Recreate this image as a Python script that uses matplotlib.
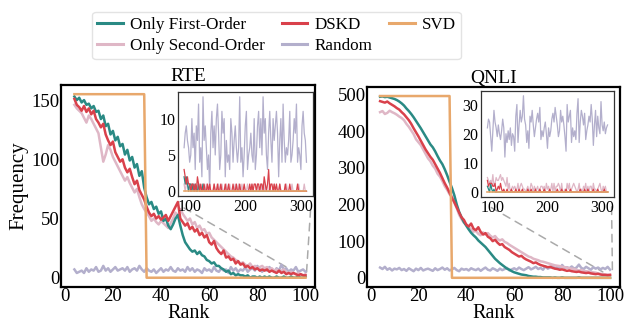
# Rank frequency of selected components: RTE and QNLI, with zoomed insets for the tail
import matplotlib
matplotlib.use('Agg')
import matplotlib.pyplot as plt
from matplotlib.patches import ConnectionPatch

plt.rcParams['font.family'] = ['Liberation Serif', 'DejaVu Serif']

ranks = list(range(4, 101))
tail_ranks = list(range(90, 311, 2))

# ---- RTE main curves (rank 4..100)
rte_first = [153,150,152,148,150,146,147,143,145,140,
             141,134,137,128,130,121,124,116,119,111,
             113,104,108,99,102,93,96,86,90,76,
             68,62,64,58,60,54,56,48,50,44,
             41,45,50,53,44,36,30,27,24,22,
             23,20,22,19,18,15,14,12,13,10,
             10,8,7,5,6,3,4,2,3,2,
             2,1,2,0,1,1,0,1,0,1,
             0,1,0,0,1,0,0,1,0,0,
             1,0,0,1,0,0,1]
rte_dskd = [151,146,144,141,145,140,143,138,141,134,
            131,127,130,121,116,112,115,106,102,98,
            100,93,89,92,85,79,82,74,70,66,
            60,55,52,54,50,52,49,51,53,48,
            52,56,60,64,50,47,44,46,41,43,
            39,41,36,38,34,36,30,28,31,25,
            22,20,23,17,18,15,16,12,14,11,
            12,9,10,8,9,7,8,6,7,6,
            7,5,6,5,4,6,4,5,3,4,
            3,4,3,2,3,2,2]
rte_second = [146,143,141,139,135,131,137,134,130,126,
              122,110,98,104,112,108,102,98,94,90,
              86,82,85,80,76,72,75,68,62,58,
              55,52,48,50,47,45,48,46,44,42,
              46,50,55,52,58,54,51,48,50,45,
              47,42,44,40,41,37,38,34,32,30,
              28,26,24,22,20,18,17,15,14,12,
              13,11,10,12,9,10,8,9,10,8,
              9,7,8,6,7,5,6,7,5,4,
              5,4,3,4,3,2,3]
rte_random = [7,4,5,6,4,8,5,7,6,9,
              5,6,10,6,8,5,7,9,6,7,
              8,6,9,5,7,8,6,10,7,5,
              8,6,5,7,4,6,8,5,7,6,
              9,6,5,8,6,7,5,9,6,8,
              5,7,6,4,8,6,7,5,9,6,
              5,8,6,7,4,9,6,8,5,7,
              6,9,5,7,8,6,10,7,5,8,
              6,9,7,5,8,6,11,7,8,5,
              7,6,9,5,6,7,5]
rte_svd = [155] * 30 + [0] * 67

# ---- QNLI main curves (rank 4..100)
qnli_first = [494,495,493,494,492,490,488,485,481,476,
              470,462,455,447,438,428,418,408,397,386,
              375,364,356,345,332,320,310,296,280,262,
              245,225,200,180,165,152,142,132,123,116,
              110,102,96,90,84,76,68,60,52,46,
              40,35,30,25,22,18,15,13,11,9,
              8,7,5,4,3,3,2,2,1,1,
              1,1,0,1,0,0,1,0,0,0,
              0,0,0,1,0,0,0,0,0,0,
              0,0,0,0,0,0,0]
qnli_dskd = [482,480,478,481,476,472,468,463,459,452,
             446,438,430,420,408,397,386,374,362,350,
             340,330,322,310,298,286,272,258,246,232,
             218,206,192,178,165,158,145,140,148,134,
             130,138,125,118,122,112,108,100,104,96,
             90,92,84,80,76,70,66,62,58,60,
             54,50,47,44,40,42,38,35,33,31,
             29,30,27,25,24,22,23,21,19,20,
             18,17,16,17,15,14,13,14,12,11,
             10,11,9,8,8,7,8]
qnli_second = [452,455,447,450,456,452,449,445,440,436,
               430,420,412,402,392,378,370,362,350,338,
               326,318,306,298,284,276,264,250,240,228,
               222,205,190,172,160,150,146,138,132,126,
               128,120,116,124,118,122,115,110,114,106,
               102,105,98,95,90,86,82,78,74,70,
               66,62,58,56,52,50,48,45,44,42,
               40,38,36,34,33,32,30,29,28,26,
               25,24,22,20,21,19,18,17,16,15,
               14,12,11,10,9,9,8]
qnli_random = [28,24,30,22,26,20,25,23,27,21,
               24,19,26,22,18,25,21,27,20,23,
               25,22,19,26,21,24,28,22,26,20,
               23,27,21,18,25,22,24,20,26,23,
               21,25,19,24,28,22,20,26,23,19,
               25,21,24,27,20,23,26,22,28,24,
               21,25,29,23,26,30,24,27,22,31,
               25,28,33,26,30,24,35,27,29,26,
               31,25,28,36,27,24,30,26,22,29,
               25,28,23,27,24,30,22]
qnli_svd = [496] * 30 + [0] * 67

# ---- RTE tail (rank 90..310, every 2nd rank)
rte_tail_random = [6,8,9,7,6,4,5,10,6,8,
                   3,9,7,12,4,6,2,13,7,9,
                   6,3,5,0,8,11,6,9,5,10,
                   12,8,3,5,11,8,10,2,7,4,
                   5,3,10,8,4,7,9,6,4,6,
                   13,4,6,2,5,9,11,3,5,6,
                   8,5,4,10,3,5,9,11,6,10,
                   5,13,8,10,5,3,8,11,7,4,
                   10,7,9,11,8,2,7,10,4,12,
                   7,4,6,5,7,11,4,5,7,10,
                   8,12,4,6,5,3,9,11,8,7,
                   4]
rte_tail_dskd = [3,2,1,2,1,1,0,1,1,0,
                 1,0,2,1,0,1,0,0,1,0,
                 0,1,0,1,0,0,0,1,0,0,
                 1,0,0,1,0,0,0,1,0,0,
                 1,0,0,0,1,0,0,1,0,0,
                 1,0,0,0,1,0,0,0,0,1,
                 0,1,0,1,1,0,1,1,0,1,
                 1,0,2,1,0,1,3,0,1,1,
                 0,1,0,1,0,0,1,0,0,0,
                 0,1,0,0,0,1,0,0,0,0,
                 0,0,1,0,0,0,0,0,0,0,
                 0]
rte_tail_first = [2,1,2,1,0,1,1,0,1,0,
                  1,0,0,1,0,0,0,1,0,0] + [0] * 91
rte_tail_second = [1,0,1,1,0,1,0,1,0,1,
                   0,0,1,0,1,0,0,1,0,0,
                   1,0,0,1,0,0,0,1,0,0,
                   0,1,0,0,1,0,0,0,1,0,
                   0,1,0,0,0,0,1,0,0,1,
                   0,0,1,0,0,0,0,1,0,0,
                   0,1,0,0,0,0,1,0,0,1,
                   0,0,0,1,0,0,0,1,0,0,
                   0,1,0,0,0,0,1,0,0,0,
                   0,0,1,0,0,0,0,1,0,0,
                   0,0,0,1,0,0,0,0,1,0,
                   0]
rte_tail_svd = [0] * 111

# ---- QNLI tail (rank 90..310, every 2nd rank)
qnli_tail_random = [22,25,24,19,14,21,28,24,22,19,
                    23,20,18,21,25,22,12,20,17,21,
                    18,22,16,20,19,14,26,30,17,23,
                    28,24,26,33,25,23,17,21,15,26,
                    24,28,23,19,22,25,27,24,29,18,
                    21,19,22,24,20,15,22,19,21,25,
                    27,24,29,26,23,19,21,28,24,26,
                    23,19,14,30,24,26,28,17,22,19,
                    21,18,27,32,17,24,28,26,23,27,
                    18,21,23,26,24,30,25,16,23,28,
                    19,26,22,20,31,23,21,24,20,22,
                    23]
qnli_tail_second = [5,4,3,4,3,6,2,3,5,4,
                    4,5,6,4,5,4,3,2,5,1,
                    3,0,1,2,1,2,1,1,3,0,
                    2,3,2,1,1,0,1,2,0,1,
                    3,2,0,2,1,1,2,0,1,2,
                    2,1,2,0,3,1,2,0,1,3,
                    0,3,0,2,2,3,2,0,3,0,
                    0,1,0,3,1,3,0,1,2,3,
                    2,1,0,1,3,0,1,0,2,1,
                    3,0,2,0,2,2,0,3,1,1,
                    0,1,2,3,1,0,2,1,2,0,
                    0]
qnli_tail_dskd = [4,2,3,3,3,2,2,3,0,1,
                  2,1,3,1,0,1,0,0,1,0,
                  0,0,1,0,0,0,1,0,0,1,
                  0,0,1,0,0,0,0,1,0,0,
                  1,0,0,0,1,0,0,0,1,0,
                  0,0,1,0,0,0,0,1,0,0,
                  0,0,0,0,1,0,0,0,1,0,
                  0,0,1,0,0,0,1,0,0,0,
                  0,0,0,0,0,1,0,0,0,1,
                  0,0,1,0,0,0,0,1,0,0,
                  0,1,0,0,0,0,0,1,0,0,
                  0]
qnli_tail_first = [2,1,0,3,1,0,1,0,0,0] + [0] * 101
qnli_tail_svd = [0] * 111

c_first = '#2a8a84'
c_dskd = '#d9414b'
c_svd = '#e8a86c'
c_second = '#dfb7c6'
c_random = '#b3afcc'

fig = plt.figure(figsize=(6.24, 3.22), dpi=100)
ax1 = fig.add_axes([0.098, 0.109, 0.407, 0.627])
ax2 = fig.add_axes([0.588, 0.109, 0.405, 0.621])


def draw(ax, first, dskd, second, random, svd, title, yticks):
    ax.plot(ranks, random, color=c_random, lw=1.8, label='Random')
    ax.plot(ranks, second, color=c_second, lw=1.8, label='Only Second-Order')
    ax.plot(ranks, first, color=c_first, lw=1.8, label='Only First-Order')
    ax.plot(ranks, dskd, color=c_dskd, lw=1.8, label='DSKD')
    ax.plot(ranks, svd, color=c_svd, lw=1.8, label='SVD')
    ax.set_title(title, fontsize=14, pad=3)
    ax.set_xlabel('Rank', fontsize=14.5, labelpad=-1)
    ax.set_xticks([0, 20, 40, 60, 80, 100])
    ax.set_yticks(yticks)
    ax.set_xlim(-1.5, 104)
    ax.tick_params(length=0, labelsize=13.5, pad=1)
    for s in ax.spines.values():
        s.set_linewidth(1.6)
        s.set_color('black')


def draw_inset(ax, rect, first, dskd, second, random, svd, yticks, c1, c2):
    ins = ax.inset_axes(rect)
    ins.plot(tail_ranks, random, color=c_random, lw=0.9)
    ins.plot(tail_ranks, second, color=c_second, lw=0.9)
    ins.plot(tail_ranks, first, color=c_first, lw=0.9)
    ins.plot(tail_ranks, dskd, color=c_dskd, lw=0.9)
    ins.plot(tail_ranks, svd, color=c_svd, lw=1.2)
    ins.set_xticks([100, 200, 300])
    ins.set_yticks(yticks)
    ins.tick_params(length=0, labelsize=11.5, pad=2)
    for s in ins.spines.values():
        s.set_linewidth(0.9)
        s.set_color('#333333')
    for a, b in (c1, c2):
        con = ConnectionPatch(xyA=a, coordsA=ins.transAxes, xyB=b, coordsB=ax.transData,
                              color='#aaaaaa', lw=1.1, ls=(0, (5, 4)))
        ax.add_artist(con)
    return ins


draw(ax1, rte_first, rte_dskd, rte_second, rte_random, rte_svd, 'RTE', [0, 50, 100, 150])
draw(ax2, qnli_first, qnli_dskd, qnli_second, qnli_random, qnli_svd, 'QNLI', [0, 100, 200, 300, 400, 500])
ax1.set_ylabel('Frequency', fontsize=15, labelpad=2)

draw_inset(ax1, [0.46, 0.45, 0.53, 0.515], rte_tail_first, rte_tail_dskd, rte_tail_second,
           rte_tail_random, rte_tail_svd, [0, 5, 10],
           ((0.045, -0.115), (94.6, 6)), ((0.985, -0.13), (100.4, 3.4)))
draw_inset(ax2, [0.453, 0.45, 0.523, 0.53], qnli_tail_first, qnli_tail_dskd, qnli_tail_second,
           qnli_tail_random, qnli_tail_svd, [0, 10, 20, 30],
           ((0.075, -0.10), (97, 16)), ((0.985, -0.094), (101, 11)))

h, l = ax1.get_legend_handles_labels()
order = ['Only First-Order', 'Only Second-Order', 'DSKD', 'Random', 'SVD']
handles = [h[l.index(name)] for name in order]
fig.legend(handles, order, loc='upper center', bbox_to_anchor=(0.443, 0.99), ncol=3,
           fontsize=12.3, handlelength=1.5, columnspacing=1.0, handletextpad=0.4,
           labelspacing=0.3, borderpad=0.3, frameon=True, edgecolor='#dddddd',
           fancybox=True)
for line in fig.legends[0].get_lines():
    line.set_linewidth(2.2)

fig.savefig('out.png', dpi=100)
